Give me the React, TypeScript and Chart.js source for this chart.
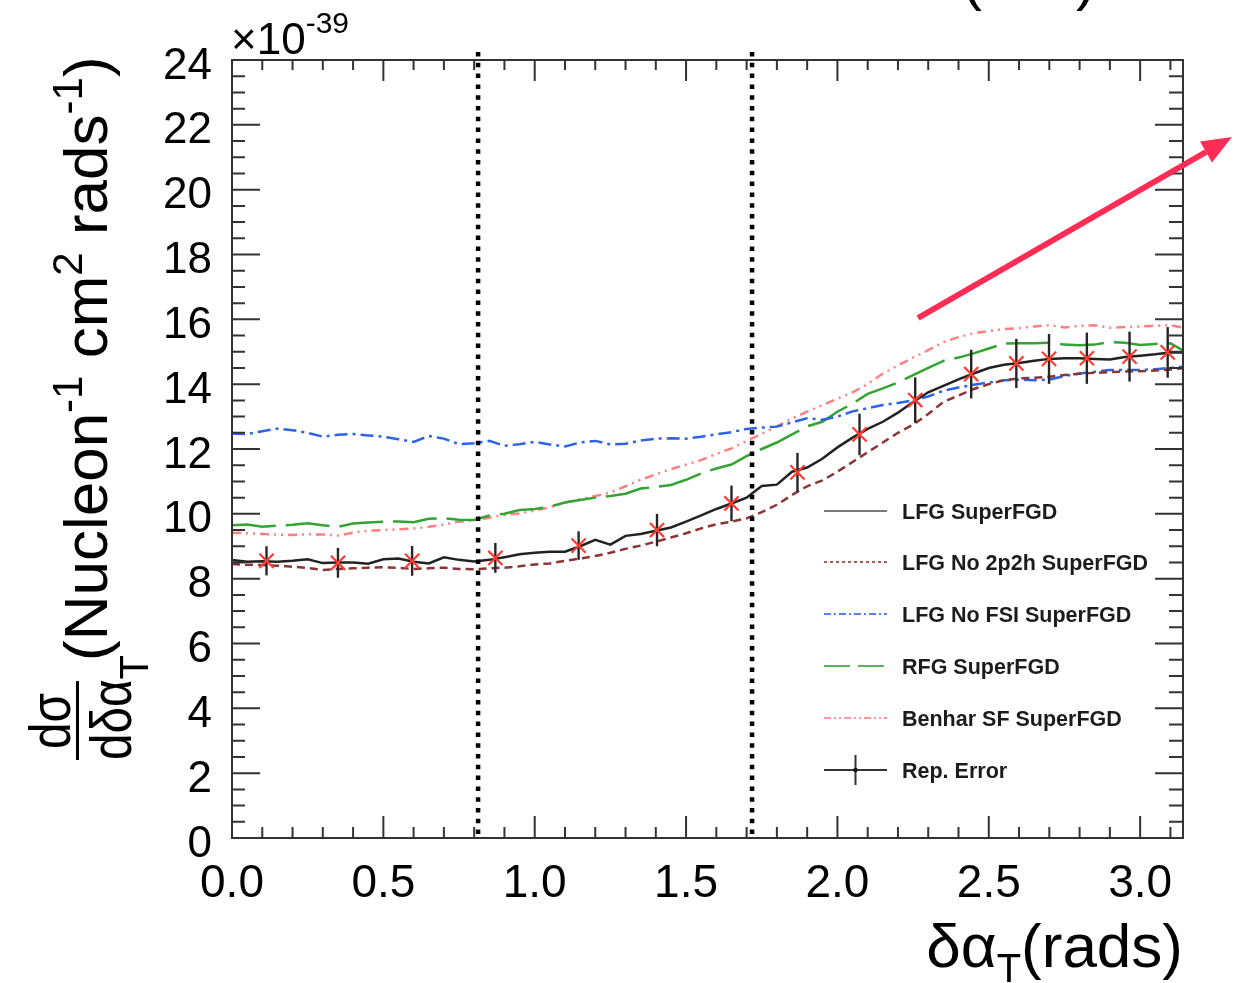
import React, { useEffect, useRef } from "react";
import { Chart, registerables } from "chart.js";

Chart.register(...registerables);

// δα_T bin positions (rads)
const xBins = [
  0.0, 0.05, 0.1, 0.15, 0.2, 0.25, 0.3, 0.35, 0.4, 0.45,
  0.5, 0.55, 0.6, 0.65, 0.7, 0.75, 0.8, 0.85, 0.9, 0.95,
  1.0, 1.05, 1.1, 1.15, 1.2, 1.25, 1.3, 1.35, 1.4, 1.45,
  1.5, 1.55, 1.6, 1.65, 1.7, 1.75, 1.8, 1.85, 1.9, 1.95,
  2.0, 2.05, 2.1, 2.15, 2.2, 2.25, 2.3, 2.35, 2.4, 2.45,
  2.5, 2.55, 2.6, 2.65, 2.7, 2.75, 2.8, 2.85, 2.9, 2.95,
  3.0, 3.05, 3.1, 3.14,
];

// cross sections, units of 1e-39 cm^2 / nucleon / rad
const lfg = [
  8.58, 8.52, 8.54, 8.52, 8.55, 8.6, 8.48, 8.5, 8.5, 8.46,
  8.6, 8.62, 8.52, 8.47, 8.66, 8.58, 8.53, 8.58, 8.66, 8.75,
  8.8, 8.83, 8.83, 9.0, 9.2, 9.05, 9.32, 9.38, 9.48, 9.58,
  9.76, 9.95, 10.15, 10.32, 10.5, 10.86, 10.9, 11.3, 11.43, 11.7,
  12.05, 12.35, 12.62, 12.84, 13.12, 13.45, 13.75, 13.95, 14.15, 14.33,
  14.5, 14.6, 14.65, 14.72, 14.78, 14.8, 14.8, 14.78, 14.76, 14.84,
  14.88, 14.92, 14.98, 14.98,
];
const lfgNo2p2h = [
  8.45, 8.43, 8.42, 8.4, 8.37, 8.33, 8.27, 8.3, 8.32, 8.34,
  8.35, 8.33, 8.3, 8.32, 8.34, 8.3, 8.29, 8.32, 8.34, 8.38,
  8.44, 8.47, 8.55, 8.62, 8.7, 8.8, 8.92, 9.02, 9.14, 9.27,
  9.4, 9.55, 9.68, 9.76, 9.86, 10.05, 10.28, 10.58, 10.85, 11.03,
  11.3, 11.6, 11.9, 12.2, 12.5, 12.75, 13.08, 13.45, 13.65, 13.85,
  14.0, 14.12, 14.18, 14.2, 14.23, 14.28, 14.32, 14.35, 14.37, 14.39,
  14.4, 14.42, 14.45, 14.49,
];
const lfgNoFsi = [
  12.48, 12.46, 12.55, 12.63, 12.58, 12.5, 12.38, 12.44, 12.46, 12.42,
  12.38, 12.3, 12.22, 12.4, 12.32, 12.15, 12.18, 12.25, 12.1, 12.15,
  12.22, 12.14, 12.08, 12.2, 12.25, 12.14, 12.16, 12.26, 12.32, 12.33,
  12.32, 12.38, 12.45, 12.52, 12.62, 12.66, 12.69, 12.82, 12.95, 12.9,
  13.0, 13.16, 13.26, 13.36, 13.42, 13.5, 13.62, 13.8, 13.9, 13.98,
  14.05, 14.12, 14.14, 14.12, 14.14, 14.25, 14.33, 14.38, 14.44, 14.44,
  14.44, 14.46, 14.5, 14.54,
];
const rfg = [
  9.65, 9.67, 9.6, 9.64, 9.66, 9.71, 9.65, 9.6, 9.7, 9.73,
  9.76, 9.76, 9.74, 9.85, 9.86, 9.82, 9.81, 9.95, 10.0, 10.12,
  10.15, 10.22, 10.35, 10.43, 10.5, 10.55, 10.62, 10.78, 10.83, 10.89,
  11.05, 11.25, 11.4, 11.52, 11.78, 12.0, 12.2, 12.45, 12.7, 12.84,
  13.15, 13.4, 13.7, 13.87, 14.05, 14.28, 14.5, 14.72, 14.82, 14.95,
  15.1, 15.25, 15.26, 15.26, 15.28, 15.22, 15.2, 15.22, 15.3, 15.28,
  15.21, 15.24, 15.26, 15.05,
];
const benharSf = [
  9.42, 9.4, 9.38, 9.36, 9.35, 9.37, 9.36, 9.33, 9.42, 9.48,
  9.5, 9.52, 9.55, 9.6, 9.67, 9.76, 9.8, 9.88, 9.97, 10.01,
  10.1, 10.2, 10.35, 10.45, 10.55, 10.66, 10.85, 11.05, 11.22, 11.38,
  11.52, 11.66, 11.85, 12.02, 12.25, 12.47, 12.7, 12.94, 13.15, 13.35,
  13.55, 13.75, 14.0, 14.33, 14.58, 14.82, 15.05, 15.3, 15.45, 15.57,
  15.64, 15.7, 15.73, 15.78, 15.82, 15.75, 15.8, 15.82, 15.74, 15.76,
  15.78, 15.8, 15.82, 15.75,
];

// reporting bins with their uncertainty
const repX = [0.114, 0.35, 0.595, 0.87, 1.145, 1.404, 1.65, 1.868, 2.073, 2.257, 2.442, 2.591, 2.699, 2.824, 2.965, 3.091];
const repY = [8.55, 8.49, 8.55, 8.64, 9.02, 9.5, 10.32, 11.28, 12.45, 13.51, 14.31, 14.64, 14.78, 14.8, 14.85, 14.98];
const repErr = [0.45, 0.46, 0.46, 0.46, 0.44, 0.5, 0.55, 0.6, 0.64, 0.7, 0.75, 0.76, 0.77, 0.79, 0.77, 0.78];

// phase-space cut boundaries
const cutLines = [0.813, 1.718];

const xTickValues = [0, 0.5, 1.0, 1.5, 2.0, 2.5, 3.0];
const xTickLabels = ["0.0", "0.5", "1.0", "1.5", "2.0", "2.5", "3.0"];
const yTickValues = [0, 2, 4, 6, 8, 10, 12, 14, 16, 18, 20, 22, 24];
const yTickLabels = ["0", "2", "4", "6", "8", "10", "12", "14", "16", "18", "20", "22", "24"];

const seriesLabels = [
  "LFG SuperFGD",
  "LFG No 2p2h SuperFGD",
  "LFG No FSI SuperFGD",
  "RFG SuperFGD",
  "Benhar SF SuperFGD",
  "Rep. Error",
];

// legend samples use finer dash patterns than the curves
const legendDash = [[], [3, 3], [7, 3, 2, 3], [26, 8], [7, 3, 2, 3, 2, 3]];

const X_MAX = 3.1416;
const Y_MAX = 24;
const REP_INDEX = 5;
const FONT = '"Liberation Sans", Arial, Helvetica, sans-serif';
const font = (size: number, bold = false) => `${bold ? "bold " : ""}${size}px ${FONT}`;

type Part = { t: string; size: number; dy?: number; sx?: number };

// draws a run of text pieces (for super/subscripts) left to right, returns the width
function drawRich(ctx: CanvasRenderingContext2D, parts: Part[], x: number, y: number, measureOnly = false) {
  let cx = x;
  for (const p of parts) {
    ctx.font = font(p.size);
    const sx = p.sx ?? 1;
    const w = ctx.measureText(p.t).width * sx;
    if (!measureOnly) {
      ctx.save();
      ctx.translate(cx, y + (p.dy ?? 0));
      ctx.scale(sx, 1);
      ctx.textAlign = "left";
      ctx.textBaseline = "alphabetic";
      ctx.fillText(p.t, 0, 0);
      ctx.restore();
    }
    cx += w;
  }
  return cx - x;
}

const plotDecor = {
  id: "plotDecor",
  beforeDatasetDraw(chart: any, args: any) {
    if (args.index !== REP_INDEX) return;
    const { ctx, scales } = chart;
    const xs = scales.x;
    const ys = scales.y;
    ctx.save();
    ctx.strokeStyle = "#262626";
    ctx.lineWidth = 2.4;
    repX.forEach((v, i) => {
      const px = xs.getPixelForValue(v);
      ctx.beginPath();
      ctx.moveTo(px, ys.getPixelForValue(repY[i] - repErr[i]));
      ctx.lineTo(px, ys.getPixelForValue(repY[i] + repErr[i]));
      ctx.stroke();
    });
    ctx.restore();
  },
  afterDraw(chart: any) {
    const { ctx, chartArea: a, scales } = chart;
    const xs = scales.x;
    const ys = scales.y;
    ctx.save();

    // cut lines
    ctx.strokeStyle = "#000";
    ctx.lineWidth = 4.5;
    ctx.setLineDash([4.5, 6.3]);
    cutLines.forEach((v) => {
      const px = xs.getPixelForValue(v);
      ctx.beginPath();
      ctx.moveTo(px, a.top - 8);
      ctx.lineTo(px, a.bottom - 3);
      ctx.stroke();
    });
    ctx.setLineDash([]);

    // frame
    ctx.strokeStyle = "#333";
    ctx.lineWidth = 2;
    ctx.strokeRect(a.left, a.top, a.right - a.left, a.bottom - a.top);

    // x ticks, bottom and top, pointing inward
    ctx.beginPath();
    for (let k = 0; k <= 31; k++) {
      const v = k / 10;
      const px = xs.getPixelForValue(v);
      const major = k % 5 === 0;
      ctx.moveTo(px, a.bottom);
      ctx.lineTo(px, a.bottom - (major ? 22 : 11));
      ctx.moveTo(px, a.top);
      ctx.lineTo(px, a.top + (major ? 21 : 10));
    }
    // y ticks, left and right
    for (let k = 0; k <= 48; k++) {
      const v = k / 2;
      const py = ys.getPixelForValue(v);
      const major = k % 4 === 0;
      ctx.moveTo(a.left, py);
      ctx.lineTo(a.left + (major ? 28 : 13), py);
      ctx.moveTo(a.right, py);
      ctx.lineTo(a.right - (major ? 28 : 14), py);
    }
    ctx.stroke();

    // tick labels
    ctx.fillStyle = "#000";
    ctx.font = font(46);
    ctx.textAlign = "center";
    ctx.textBaseline = "alphabetic";
    xTickValues.forEach((v, i) => {
      ctx.fillText(xTickLabels[i], xs.getPixelForValue(v), 897);
    });
    ctx.font = font(44);
    ctx.textAlign = "right";
    yTickValues.forEach((v, i) => {
      ctx.fillText(yTickLabels[i], 212, ys.getPixelForValue(v) + 18.5);
    });

    // exponent
    drawRich(ctx, [
      { t: "×10", size: 44 },
      { t: "-39", size: 30, dy: -21 },
    ], 231, 54);

    // x title, right aligned to the frame
    const xTitle: Part[] = [
      { t: "δα", size: 62 },
      { t: "T", size: 40, dy: 15 },
      { t: "(rads)", size: 62 },
    ];
    const xw = drawRich(ctx, xTitle, 0, 0, true);
    drawRich(ctx, xTitle, a.right - xw, 967);

    // y title, rotated
    ctx.save();
    ctx.translate(0, 760);
    ctx.rotate(-Math.PI / 2);
    const numParts: Part[] = [{ t: "dσ", size: 58, sx: 0.82 }];
    const nw = drawRich(ctx, numParts, 0, 0, true);
    drawRich(ctx, numParts, 39 - nw / 2, 70);
    ctx.fillRect(0, 76, 79, 3);
    drawRich(ctx, [
      { t: "dδα", size: 58, sx: 0.82 },
      { t: "T", size: 40, dy: 17 },
    ], 0, 131);
    drawRich(ctx, [
      { t: "(Nucleon", size: 62 },
      { t: "-1", size: 42, dy: -25 },
      { t: " cm", size: 62 },
      { t: "2", size: 42, dy: -25 },
      { t: " rads", size: 62 },
      { t: "-1", size: 42, dy: -25 },
      { t: ")", size: 62 },
    ], 99, 107);
    ctx.restore();

    // legend
    const rows = [511, 562, 614, 666, 718, 770];
    const ds = chart.data.datasets;
    rows.forEach((ry, i) => {
      ctx.save();
      if (i < REP_INDEX) {
        ctx.strokeStyle = ds[i].borderColor;
        ctx.globalAlpha = i === 0 ? 0.6 : 0.8;
        ctx.lineWidth = 2.2;
        ctx.setLineDash(legendDash[i]);
        ctx.beginPath();
        ctx.moveTo(824, ry);
        ctx.lineTo(887, ry);
        ctx.stroke();
      } else {
        ctx.strokeStyle = "#333";
        ctx.lineWidth = 2;
        ctx.beginPath();
        ctx.moveTo(824, ry);
        ctx.lineTo(887, ry);
        ctx.moveTo(855.5, ry - 15);
        ctx.lineTo(855.5, ry + 15);
        ctx.stroke();
        ctx.fillStyle = "#111";
        ctx.beginPath();
        ctx.arc(855.5, ry, 2.2, 0, Math.PI * 2);
        ctx.fill();
      }
      ctx.restore();
      ctx.fillStyle = "#1c1c1c";
      ctx.font = font(21.5, true);
      ctx.textAlign = "left";
      ctx.textBaseline = "alphabetic";
      ctx.fillText(seriesLabels[i], 902, ry + 7.7);
    });

    // highlight arrow
    const x0 = 918, y0 = 318, tx = 1232, ty = 137;
    const ang = Math.atan2(ty - y0, tx - x0);
    const hl = 30, hw = 12;
    const bx = tx - hl * Math.cos(ang), by = ty - hl * Math.sin(ang);
    ctx.strokeStyle = "#ff2d55";
    ctx.fillStyle = "#ff2d55";
    ctx.lineWidth = 6;
    ctx.beginPath();
    ctx.moveTo(x0, y0);
    ctx.lineTo(bx, by);
    ctx.stroke();
    ctx.beginPath();
    ctx.moveTo(tx, ty);
    ctx.lineTo(bx + hw * Math.sin(ang), by - hw * Math.cos(ang));
    ctx.lineTo(bx - hw * Math.sin(ang), by + hw * Math.cos(ang));
    ctx.closePath();
    ctx.fill();

    // panel tag brackets at the top edge
    ctx.fillStyle = "#000";
    ctx.font = font(60);
    ctx.textAlign = "left";
    ctx.fillText("(", 962, -1);
    ctx.fillText(")", 1076, -1);

    ctx.restore();
  },
};

const pts = (ys: number[]) => xBins.map((x, i) => ({ x, y: ys[i] }));

export default function App() {
  const canvasRef = useRef<HTMLCanvasElement | null>(null);

  useEffect(() => {
    const canvas = canvasRef.current;
    if (!canvas) return;
    const curve = (label: string, ys: number[], color: string, dash: number[]) => ({
      label,
      data: pts(ys),
      borderColor: color,
      borderWidth: 2.5,
      borderDash: dash,
      pointRadius: 0,
      tension: 0,
      fill: false,
    });
    const chart = new Chart(canvas, {
      type: "line",
      data: {
        datasets: [
          curve(seriesLabels[0], lfg, "#222222", []),
          curve(seriesLabels[1], lfgNo2p2h, "#8a3434", [8, 5]),
          curve(seriesLabels[2], lfgNoFsi, "#2f63e6", [13, 5, 3, 5]),
          curve(seriesLabels[3], rfg, "#33a333", [44, 10]),
          curve(seriesLabels[4], benharSf, "#ff8080", [9, 5, 2, 5, 2, 5]),
          {
            label: seriesLabels[5],
            data: repX.map((x, i) => ({ x, y: repY[i] })),
            showLine: false,
            pointStyle: "crossRot",
            pointRadius: 10,
            pointBorderColor: "#ff3b30",
            pointBackgroundColor: "#ff3b30",
            pointBorderWidth: 2.2,
            borderColor: "#ff3b30",
            order: -1,
          } as any,
        ],
      },
      options: {
        animation: false,
        responsive: false,
        maintainAspectRatio: false,
        devicePixelRatio: 1,
        events: [],
        layout: { padding: { left: 232, top: 60, right: 52, bottom: 145 } },
        scales: {
          x: { type: "linear", min: 0, max: X_MAX, display: false },
          y: { type: "linear", min: 0, max: Y_MAX, display: false },
        },
        plugins: { legend: { display: false }, tooltip: { enabled: false } },
      },
      plugins: [plotDecor],
    } as any);
    return () => chart.destroy();
  }, []);

  return (
    <div style={{ position: "fixed", left: 0, top: 0, width: 1235, height: 983, background: "#fff" }}>
      <canvas ref={canvasRef} width={1235} height={983} style={{ display: "block" }} />
    </div>
  );
}
